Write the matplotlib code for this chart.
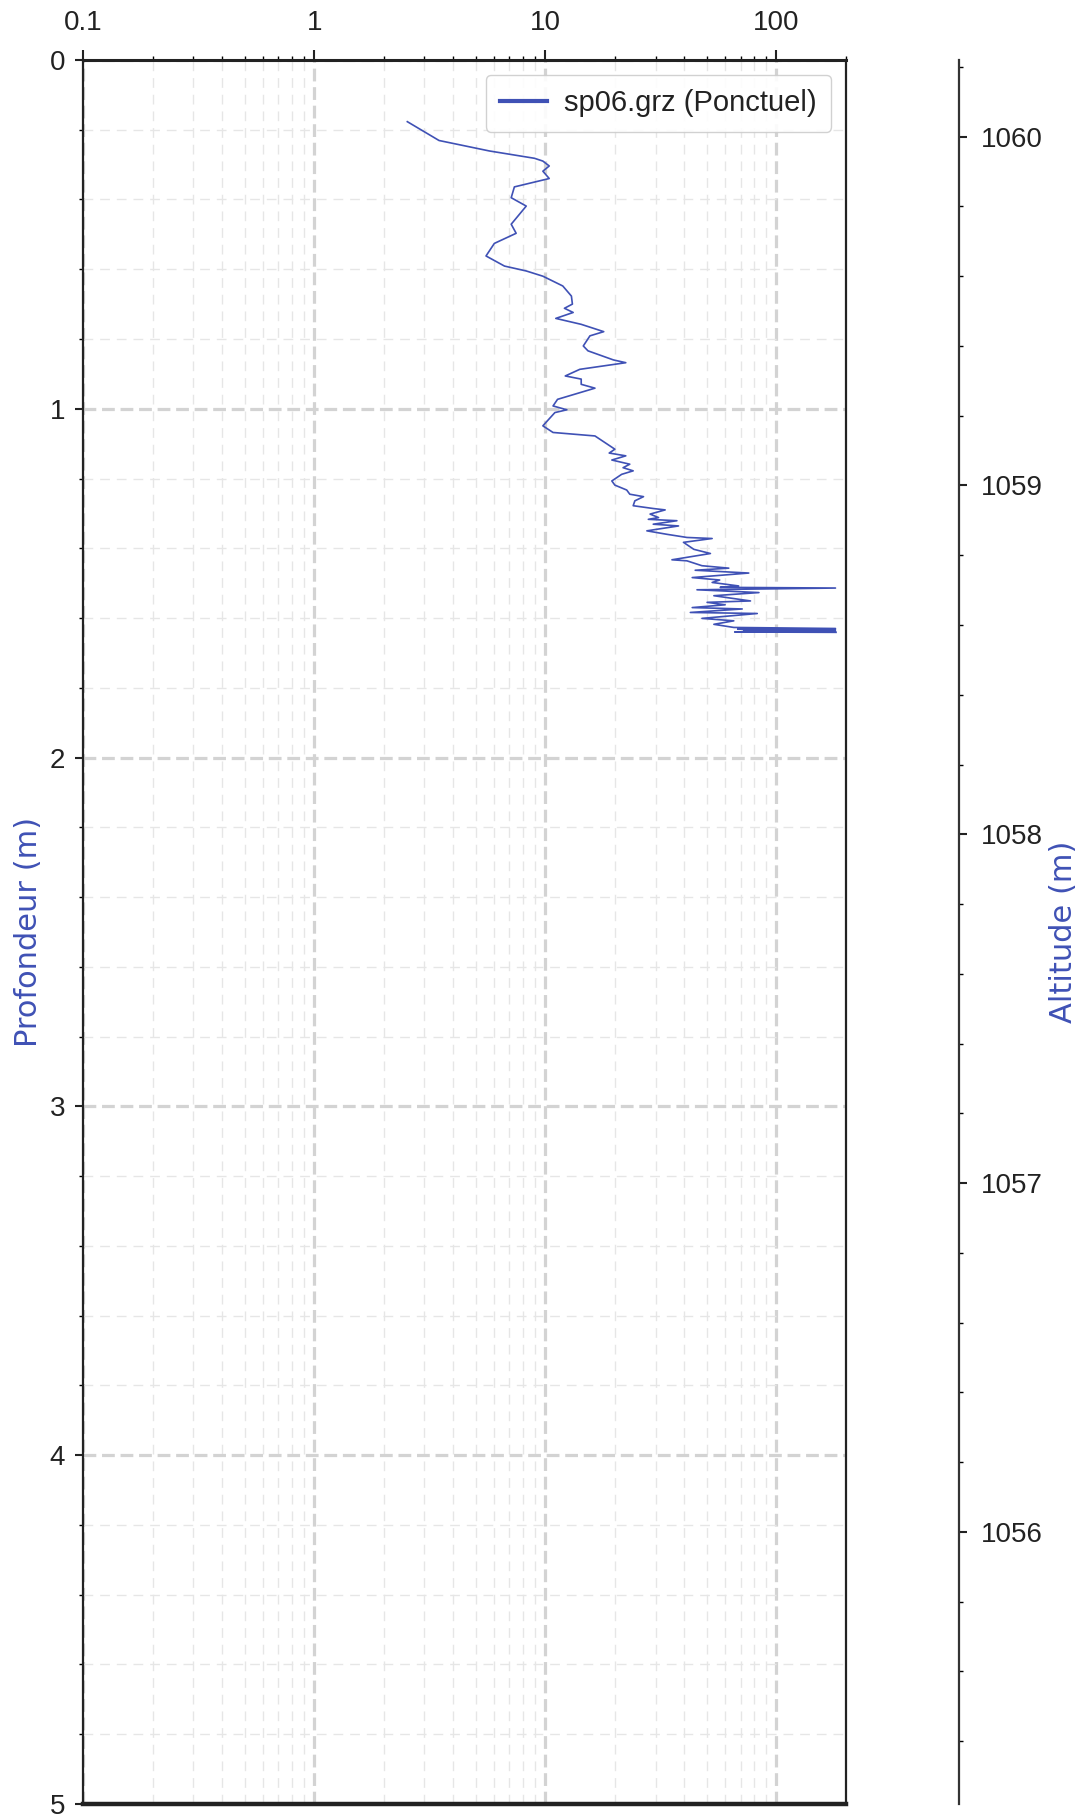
import matplotlib
matplotlib.use("Agg")
import matplotlib.pyplot as plt
from matplotlib.ticker import FixedLocator, FuncFormatter, LogLocator, MultipleLocator, NullFormatter

# %% data read off the sounding
depth_m = [
    0.177, 0.231, 0.261, 0.282, 0.290, 0.304, 0.319, 0.340, 0.364, 0.395,
    0.419, 0.471, 0.497, 0.526, 0.562, 0.591, 0.605, 0.620, 0.648, 0.677,
    0.700, 0.712, 0.724, 0.741, 0.758, 0.779, 0.791, 0.820, 0.834, 0.860,
    0.868, 0.887, 0.906, 0.915, 0.930, 0.941, 0.973, 0.992, 1.003, 1.011,
    1.049, 1.068, 1.078, 1.116, 1.127, 1.135, 1.147, 1.159, 1.169, 1.178,
    1.188, 1.207, 1.219, 1.233, 1.245, 1.252, 1.264, 1.278, 1.286, 1.290,
    1.302, 1.312, 1.317, 1.321, 1.331, 1.336, 1.350, 1.360, 1.369, 1.372,
    1.383, 1.403, 1.415, 1.433, 1.436, 1.450, 1.457, 1.463, 1.471, 1.484,
    1.491, 1.498, 1.508, 1.512, 1.514, 1.519, 1.527, 1.536, 1.551, 1.555,
    1.562, 1.570, 1.574, 1.584, 1.587, 1.601, 1.608, 1.618, 1.627, 1.630,
    1.632, 1.634, 1.636, 1.638, 1.640, 1.641,
]
resistance = [
    2.53, 3.47, 5.73, 8.98, 9.76, 10.4, 9.76, 10.4, 7.35, 7.12,
    8.27, 7.12, 7.48, 6.02, 5.54, 6.66, 8.27, 9.76, 11.9, 12.97,
    13.1, 12.1, 13.2, 11.1, 14.3, 17.9, 15.6, 14.6, 15.3, 19.7,
    22.3, 14.1, 12.2, 14.3, 14.3, 16.4, 11.3, 10.8, 12.4, 11.0,
    9.76, 10.8, 16.4, 20.0, 18.9, 22.3, 19.4, 23.2, 21.7, 24.0,
    21.4, 19.4, 20.0, 22.5, 23.2, 26.6, 24.4, 24.0, 29.3, 33.0,
    28.4, 30.9, 27.9, 37.1, 29.3, 37.7, 27.5, 33.6, 41.0, 52.7,
    39.6, 43.9, 51.8, 35.3, 41.0, 47.6, 62.2, 44.5, 75.9, 43.2,
    56.8, 52.7, 68.6, 57.1, 180.0, 45.3, 84.0, 53.6, 77.2, 50.1,
    60.0, 43.2, 71.1, 42.4, 82.6, 47.6, 65.4, 53.6, 65.4, 180.0,
    68.0, 180.0, 72.0, 180.0, 66.0, 181.0,
]
ground_altitude = 1060.22
max_depth = 5
series_label = "sp06.grz (Ponctuel)"

blue = "#3f51b5"
tick_font = "Liberation Sans"

fig = plt.figure(figsize=(10.89, 18.16), dpi=100)
ax = fig.add_axes([0.0762, 0.0066, 0.7007, 0.9604])

ax.plot(resistance, depth_m, color=blue, lw=1.2, label=series_label)

ax.set_xscale("log")
ax.set_xlim(0.1, 200)
ax.set_ylim(max_depth, 0)

# top x axis
ax.xaxis.tick_top()
ax.xaxis.set_major_locator(FixedLocator([0.1, 1, 10, 100]))
ax.xaxis.set_major_formatter(FuncFormatter(lambda v, p: f"{v:g}"))
ax.xaxis.set_minor_locator(LogLocator(base=10, subs=range(2, 10)))
ax.xaxis.set_minor_formatter(NullFormatter())
ax.yaxis.set_major_locator(MultipleLocator(1))
ax.yaxis.set_minor_locator(MultipleLocator(0.2))

ax.tick_params(axis="x", which="major", length=7, width=1.5, pad=10.5, colors="#222222", labelsize=20)
ax.tick_params(axis="x", which="minor", length=3, width=1)
ax.tick_params(axis="y", which="major", length=6, width=1.5, pad=7, colors="#222222", labelsize=20)
ax.tick_params(axis="y", which="minor", length=3, width=1)
for lab in ax.get_xticklabels() + ax.get_yticklabels():
    lab.set_family(tick_font)

# grids
ax.grid(which="major", color="#d3d3d3", lw=2.3, linestyle=(0, (4, 1.8)))
ax.grid(which="minor", color="#e6e6e6", lw=1.0, linestyle=(0, (7, 5)))
ax.set_axisbelow(True)

for side, lw in [("left", 1.6), ("right", 1.6), ("top", 2.2), ("bottom", 3.2)]:
    ax.spines[side].set_linewidth(lw)
    ax.spines[side].set_color("#222222")

ax.set_ylabel("Profondeur (m)", color=blue, fontsize=22)
ax.yaxis.set_label_coords(-0.052, 0.5)

leg = ax.legend(loc="upper right", prop={"family": tick_font, "size": 21},
                handlelength=1.6, handletextpad=0.6, borderpad=0.5,
                borderaxespad=0.5, framealpha=0.9, edgecolor="#cccccc")
leg.get_lines()[0].set_linewidth(3)
for t in leg.get_texts():
    t.set_color("#222222")

# altitude axis
ax2 = ax.twinx()
ax2.set_ylim(ground_altitude - max_depth, ground_altitude)
for side in ["left", "top", "bottom"]:
    ax2.spines[side].set_visible(False)
ax2.spines["right"].set_position(("outward", 81))
ax2.spines["right"].set_linewidth(1.6)
ax2.spines["right"].set_color("#333333")
ax2.yaxis.set_major_locator(MultipleLocator(1))
ax2.yaxis.set_minor_locator(MultipleLocator(0.2))
ax2.tick_params(axis="y", which="major", length=6, width=1.5, pad=10, colors="#222222", labelsize=20)
ax2.tick_params(axis="y", which="minor", length=3, width=1)
for lab in ax2.get_yticklabels():
    lab.set_family(tick_font)
ax2.set_ylabel("Altitude (m)", color=blue, fontsize=22)
ax2.yaxis.set_label_coords(1.266, 0.5)

fig.savefig("out.png", dpi=100)
